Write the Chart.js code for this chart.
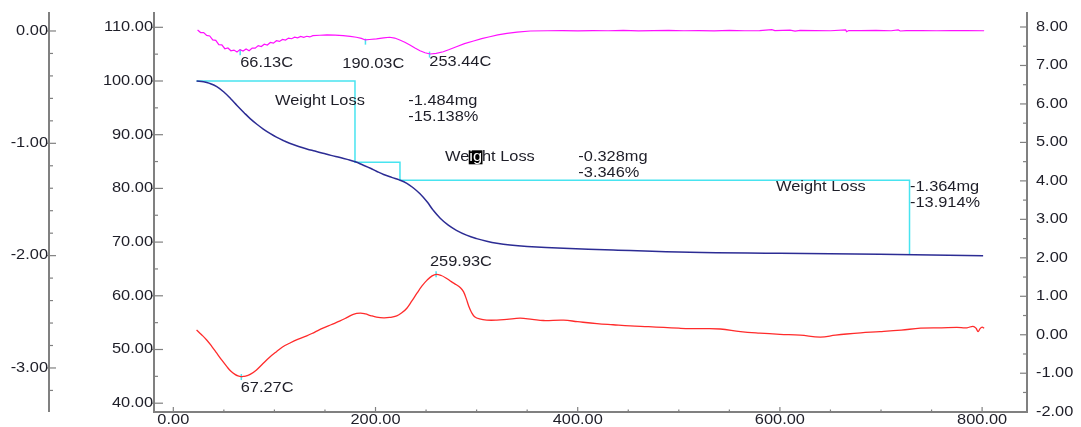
<!DOCTYPE html>
<html>
<head>
<meta charset="utf-8">
<script src="https://cdn.jsdelivr.net/npm/chart.js@4"></script>
<style>
  html, body { margin: 0; padding: 0; background: #fff; }
  #wrap { width: 1081px; height: 427px; position: relative; }
</style>
</head>
<body>
<div id="wrap"><canvas id="taChart"></canvas></div>
<script>
// TG (weight %), left inner axis
const tgTemp = [23, 30, 36, 43, 50, 57, 63, 70, 76, 83, 89, 96, 102, 109, 115, 124, 132, 140, 148, 156, 165, 172, 180, 187, 195, 201, 208, 216, 224, 231, 237, 244, 251, 257, 264, 272, 280, 290, 300, 310, 320, 333, 350, 386, 435, 511, 600, 699, 801];
const tgVal = [100.0, 99.85, 99.55, 98.95, 97.95, 96.65, 95.45, 94.1, 93.0, 91.9, 91.05, 90.2, 89.55, 88.9, 88.4, 87.8, 87.35, 86.95, 86.55, 86.15, 85.75, 85.4, 84.95, 84.4, 83.75, 83.2, 82.6, 82.05, 81.55, 80.95, 80.15, 79.0, 77.5, 75.95, 74.45, 73.15, 72.2, 71.3, 70.65, 70.15, 69.77, 69.45, 69.2, 68.85, 68.53, 68.1, 67.92, 67.73, 67.47];

// DTG (magenta), far left axis
const dtgTemp = [24, 27, 30, 33, 36, 39, 42, 45, 48, 51, 54, 57, 60, 63, 66, 69, 72, 75, 78, 81, 84, 87, 90, 93, 96, 99, 102, 105, 108, 111, 114, 117, 120, 123, 126, 129, 132, 135, 138, 145, 152, 160, 168, 175, 181, 186, 190, 194, 201, 208, 214, 219, 224, 229, 234, 239, 244, 249, 254, 260, 267, 273, 280, 288, 297, 305, 313, 321, 330, 340, 353, 370, 385, 400, 415, 430, 445, 460, 475, 490, 505, 520, 535, 550, 565, 580, 592, 595, 610, 615, 620, 635, 650, 665, 666, 668, 680, 695, 710, 717, 719, 725, 740, 755, 770, 785, 802];
const dtgVal = [0.009, -0.014, -0.014, -0.039, -0.044, -0.079, -0.083, -0.122, -0.123, -0.158, -0.151, -0.176, -0.170, -0.187, -0.166, -0.179, -0.160, -0.176, -0.152, -0.153, -0.130, -0.139, -0.118, -0.125, -0.102, -0.108, -0.087, -0.093, -0.075, -0.081, -0.063, -0.069, -0.055, -0.061, -0.049, -0.056, -0.047, -0.053, -0.042, -0.038, -0.034, -0.037, -0.042, -0.048, -0.056, -0.066, -0.080, -0.076, -0.071, -0.062, -0.056, -0.063, -0.080, -0.100, -0.125, -0.152, -0.176, -0.194, -0.205, -0.199, -0.185, -0.165, -0.140, -0.113, -0.089, -0.068, -0.051, -0.035, -0.021, -0.010, 0.000, 0.002, 0.004, 0.001, 0.004, 0.002, 0.005, 0.001, 0.003, 0.006, 0.002, 0.004, 0.001, 0.005, 0.002, 0.004, 0.012, 0.003, 0.008, -0.002, 0.006, 0.003, 0.002, 0.010, -0.006, 0.004, 0.003, 0.006, 0.002, 0.010, 0.000, 0.004, 0.003, 0.002, 0.004, 0.003, 0.002];

// DTA (red), right axis
const dtaTemp = [23, 28, 33, 38, 43, 48, 53, 57, 61, 64, 67, 70, 73, 76, 82, 89, 95, 102, 108, 115, 123, 132, 140, 148, 156, 165, 172, 178, 185, 190, 195, 201, 208, 214, 221, 226, 231, 236, 241, 246, 251, 256, 260, 265, 270, 275, 280, 284, 287, 290, 292, 295, 298, 303, 310, 320, 330, 343, 355, 366, 386, 400, 419, 435, 452, 470, 485, 500, 511, 525, 541, 561, 580, 600, 620, 640, 655, 666, 680, 699, 720, 739, 760, 775, 785, 791, 794, 796, 798, 800, 802];
const dtaVal = [0.124, 0.0, -0.136, -0.30, -0.48, -0.66, -0.83, -0.95, -1.03, -1.07, -1.09, -1.08, -1.06, -1.03, -0.92, -0.74, -0.59, -0.44, -0.32, -0.22, -0.12, -0.03, 0.07, 0.17, 0.26, 0.36, 0.45, 0.53, 0.56, 0.54, 0.50, 0.46, 0.44, 0.45, 0.49, 0.57, 0.69, 0.88, 1.08, 1.27, 1.42, 1.53, 1.57, 1.54, 1.47, 1.38, 1.30, 1.22, 1.12, 0.92, 0.76, 0.58, 0.47, 0.41, 0.38, 0.38, 0.40, 0.43, 0.40, 0.37, 0.38, 0.34, 0.29, 0.26, 0.23, 0.21, 0.19, 0.17, 0.16, 0.16, 0.15, 0.08, 0.04, 0.01, -0.01, -0.06, -0.01, 0.02, 0.05, 0.08, 0.12, 0.17, 0.18, 0.19, 0.18, 0.22, 0.17, 0.08, 0.16, 0.20, 0.17];

// weight loss steps (cyan)
const wlTemp = [23, 179.7, 179.7, 224.2, 224.2, 728.2, 728.2];
const wlVal = [100, 100, 84.862, 84.862, 81.516, 81.516, 67.602];

// peak markers
const dtgPeakTemp = [66.13, 190.03, 253.44];
const dtgPeakVal = [-0.19, -0.095, -0.21];
const dtaPeakTemp = [259.93, 67.27];
const dtaPeakVal = [1.57, -1.10];

// ticks
const xTicks = [0, 200, 400, 600, 800];
const xMinor = [50, 100, 150, 250, 300, 350, 450, 500, 550, 650, 700, 750];
const tgTicks = [40, 50, 60, 70, 80, 90, 100, 110];
const tgMinor = [45, 55, 65, 75, 85, 95, 105];
const dtgTicks = [0, -1, -2, -3];
const dtgMinor = [-0.2, -0.4, -0.6, -0.8, -1.2, -1.4, -1.6, -1.8, -2.2, -2.4, -2.6, -2.8, -3.2];
const dtaTicks = [-2, -1, 0, 1, 2, 3, 4, 5, 6, 7, 8];
const dtaMinor = [-1.5, -0.5, 0.5, 1.5, 2.5, 3.5, 4.5, 5.5, 6.5, 7.5];

// text labels: [text, temp, value, axis]
const notes = [
  ["66.13C", 66.2, -0.282, "yDTG"],
  ["190.03C", 167.2, -0.297, "yDTG"],
  ["253.44C", 253.2, -0.279, "yDTG"],
  ["259.93C", 253.9, 1.899, "yDTA"],
  ["67.27C", 66.7, -1.392, "yDTA"],
  ["Weight Loss", 100.6, 96.33, "yTG"],
  ["-1.484mg", 232.4, 96.33, "yTG"],
  ["-15.138%", 232.4, 93.24, "yTG"],
  ["Weight Loss", 268.7, 85.79, "yTG"],
  ["-0.328mg", 400.6, 85.79, "yTG"],
  ["-3.346%", 400.6, 82.92, "yTG"],
  ["Weight Loss", 596.1, 80.32, "yTG"],
  ["-1.364mg", 728.7, 80.32, "yTG"],
  ["-13.914%", 728.7, 77.34, "yTG"]
];

const AXIS = "#808080";
const TXT = "#1e1e28";
const FONT = "14px 'Liberation Sans', Arial, sans-serif";
const SX = 1.17;

const pts = (xs, ys) => xs.map((t, i) => ({ x: t, y: ys[i] }));

function txt(c, s, x, y, align) {
  c.save();
  c.translate(x, y);
  c.scale(SX, 1);
  c.textAlign = align;
  c.textBaseline = "middle";
  c.fillText(s, 0, 0);
  c.restore();
}

function seg(c, x1, y1, x2, y2) {
  c.beginPath();
  c.moveTo(x1, y1);
  c.lineTo(x2, y2);
  c.stroke();
}

const axesPlugin = {
  id: "taAxes",
  afterDraw(chart) {
    const c = chart.ctx, a = chart.chartArea;
    const sx = chart.scales.x, sTG = chart.scales.yTG, sDTG = chart.scales.yDTG, sDTA = chart.scales.yDTA;
    const xL = sDTG.right - 1;
    c.save();
    c.strokeStyle = AXIS;
    c.lineWidth = 2;
    seg(c, xL, a.top, xL, a.bottom);
    seg(c, a.left, a.top, a.left, a.bottom + 1);
    seg(c, a.right, a.top, a.right, a.bottom + 1);
    seg(c, a.left, a.bottom, a.right, a.bottom);

    c.lineWidth = 1.2;
    xTicks.forEach(v => { const p = sx.getPixelForValue(v); seg(c, p, a.bottom, p, a.bottom - 5); });
    xMinor.forEach(v => { const p = sx.getPixelForValue(v); seg(c, p, a.bottom, p, a.bottom - 2.5); });
    tgTicks.forEach(v => { const p = sTG.getPixelForValue(v); seg(c, a.left - 2, p, a.left + 9, p); });
    tgMinor.forEach(v => { const p = sTG.getPixelForValue(v); seg(c, a.left, p, a.left + 4, p); });
    dtgTicks.forEach(v => { const p = sDTG.getPixelForValue(v); seg(c, xL - 2, p, xL + 7, p); });
    dtgMinor.forEach(v => { const p = sDTG.getPixelForValue(v); seg(c, xL, p, xL + 4, p); });
    dtaTicks.forEach(v => { const p = sDTA.getPixelForValue(v); seg(c, a.right - 7, p, a.right, p); });
    dtaMinor.forEach(v => { const p = sDTA.getPixelForValue(v); seg(c, a.right - 4, p, a.right, p); });

    c.fillStyle = TXT;
    c.font = FONT;
    xTicks.forEach(v => txt(c, v.toFixed(2), sx.getPixelForValue(v), a.bottom + 8, "center"));
    tgTicks.forEach(v => txt(c, v.toFixed(2), a.left - 1, sTG.getPixelForValue(v), "right"));
    dtgTicks.forEach(v => txt(c, v.toFixed(2), xL - 1, sDTG.getPixelForValue(v), "right"));
    dtaTicks.forEach(v => txt(c, v.toFixed(2), a.right + 9, sDTA.getPixelForValue(v), "left"));

    notes.forEach((n, i) => {
      const px = sx.getPixelForValue(n[1]);
      const py = chart.scales[n[3]].getPixelForValue(n[2]);
      txt(c, n[0], px, py, "left");
      if (i === 8) {
        // selection highlight over "ig"
        const w0 = c.measureText("We").width * SX;
        const w1 = c.measureText("Weig").width * SX;
        c.fillStyle = "#000";
        c.fillRect(px + w0 - 0.5, py - 7, w1 - w0 + 1, 14);
        c.fillStyle = "#fff";
        txt(c, "ig", px + w0, py, "left");
        c.fillStyle = TXT;
      }
    });
    c.restore();
  }
};

const hidden = { ticks: { display: false }, grid: { display: false }, border: { display: false } };

new Chart(document.getElementById("taChart"), {
  type: "line",
  data: {
    datasets: [
      { data: pts(tgTemp, tgVal), yAxisID: "yTG", borderColor: "#2c2c94", borderWidth: 1.5, pointRadius: 0, tension: 0.4 },
      { data: pts(wlTemp, wlVal), yAxisID: "yTG", borderColor: "#48e4f0", borderWidth: 1.5, pointRadius: 0, tension: 0 },
      { data: pts(dtgTemp, dtgVal), yAxisID: "yDTG", borderColor: "#ff10ff", borderWidth: 1.2, pointRadius: 0, tension: 0 },
      { data: pts(dtaTemp, dtaVal), yAxisID: "yDTA", borderColor: "#ff2b2b", borderWidth: 1.3, pointRadius: 0, tension: 0.4 },
      { data: pts(dtgPeakTemp, dtgPeakVal), yAxisID: "yDTG", showLine: false, pointStyle: "line", rotation: 90, pointRadius: 3, pointBorderColor: "#48e4f0", pointBorderWidth: 1.5 },
      { data: pts(dtaPeakTemp, dtaPeakVal), yAxisID: "yDTA", showLine: false, pointStyle: "line", rotation: 90, pointRadius: 3, pointBorderColor: "#48e4f0", pointBorderWidth: 1.5 }
    ]
  },
  options: {
    responsive: true,
    maintainAspectRatio: false,
    animation: false,
    layout: { padding: { top: 12, left: 0, right: 0, bottom: 0 } },
    plugins: { legend: { display: false }, tooltip: { enabled: false } },
    scales: {
      x: { type: "linear", min: -19.1, max: 844.4, ...hidden, afterFit: s => { s.height = 15; } },
      yDTG: { position: "left", weight: 1, min: -3.392, max: 0.169, ...hidden, afterFit: s => { s.width = 50; } },
      yTG: { position: "left", weight: 0, min: 38.36, max: 112.85, ...hidden, afterFit: s => { s.width = 104; } },
      yDTA: { position: "right", min: -2.008, max: 8.39, ...hidden, afterFit: s => { s.width = 54; } }
    }
  },
  plugins: [axesPlugin]
});
</script>
</body>
</html>
